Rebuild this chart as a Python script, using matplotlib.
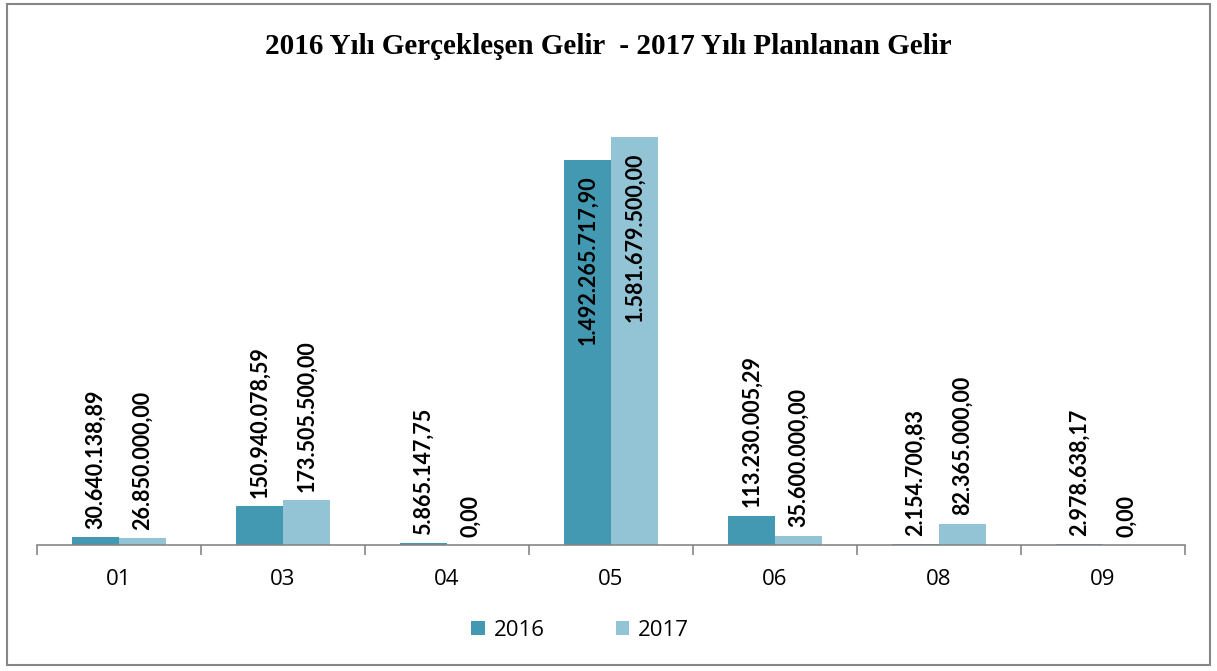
import numpy as np
import matplotlib.pyplot as plt
from matplotlib.patches import Rectangle

categories = ['01', '03', '04', '05', '06', '08', '09']
gelir_2016 = [30640138.89, 150940078.59, 5865147.75, 1492265717.90,
              113230005.29, 2154700.83, 2978638.17]
gelir_2017 = [26850000.00, 173505500.00, 0.00, 1581679500.00,
              35600000.00, 82365000.00, 0.00]
labels_2016 = ['30.640.138,89', '150.940.078,59', '5.865.147,75', '1.492.265.717,90',
               '113.230.005,29', '2.154.700,83', '2.978.638,17']
labels_2017 = ['26.850.000,00', '173.505.500,00', '0,00', '1.581.679.500,00',
               '35.600.000,00', '82.365.000,00', '0,00']

c16 = '#4399b1'
c17 = '#93c4d6'

fig = plt.figure(figsize=(12.17, 6.71), dpi=100)
ax = fig.add_axes([37 / 1217, 1 - 545 / 671, 1148 / 1217, 464 / 671])

x = np.arange(len(categories))
w = 0.286
b1 = ax.bar(x - w / 2, gelir_2016, w, color=c16, label='2016')
b2 = ax.bar(x + w / 2, gelir_2017, w, color=c17, label='2017')

ax.set_xlim(-0.5, len(categories) - 0.5)
ax.set_ylim(0, 1.8e9)

lab_font = dict(family='Lato', fontsize=15.5, fontweight='bold', rotation=90)
for bars, labs in ((b1, labels_2016), (b2, labels_2017)):
    for bar, lab in zip(bars, labs):
        h = bar.get_height()
        cx = bar.get_x() + bar.get_width() / 2
        if h > 1e9:
            ax.annotate(lab, (cx, h), xytext=(0, -11), textcoords='offset points',
                        ha='center', va='top', **lab_font)
        else:
            ax.annotate(lab, (cx, h), xytext=(0, 6), textcoords='offset points',
                        ha='center', va='bottom', **lab_font)

for s in ['top', 'right', 'left']:
    ax.spines[s].set_visible(False)
ax.spines['bottom'].set_color('#868686')
ax.spines['bottom'].set_linewidth(1.2)
ax.set_yticks([])
ax.set_xticks(x)
ax.set_xticklabels(categories, fontfamily='Open Sans', fontsize=16)
ax.tick_params(axis='x', which='major', length=0, pad=17)
ax.set_xticks(np.arange(-0.5, len(categories)), minor=True)
ax.tick_params(axis='x', which='minor', length=7, width=1.2, color='#868686')

fig.text(0.5, 1 - 46 / 671, '2016 Yılı Gerçekleşen Gelir  - 2017 Yılı Planlanan Gelir',
         ha='center', va='center', family='Liberation Serif', fontweight='bold', fontsize=21)

leg = fig.legend(loc='center', bbox_to_anchor=(580 / 1217, 1 - 630 / 671), ncol=2,
                 frameon=False, prop={'family': 'Open Sans', 'size': 16},
                 handlelength=0.6, handleheight=0.6, columnspacing=3.2, handletextpad=0.4)

fig.patches.append(Rectangle((7 / 1217, 1 - 665 / 671), 1203 / 1217, 661 / 671,
                             transform=fig.transFigure, fill=False,
                             edgecolor='#868686', linewidth=1.5))

fig.savefig('out.png', dpi=100)
